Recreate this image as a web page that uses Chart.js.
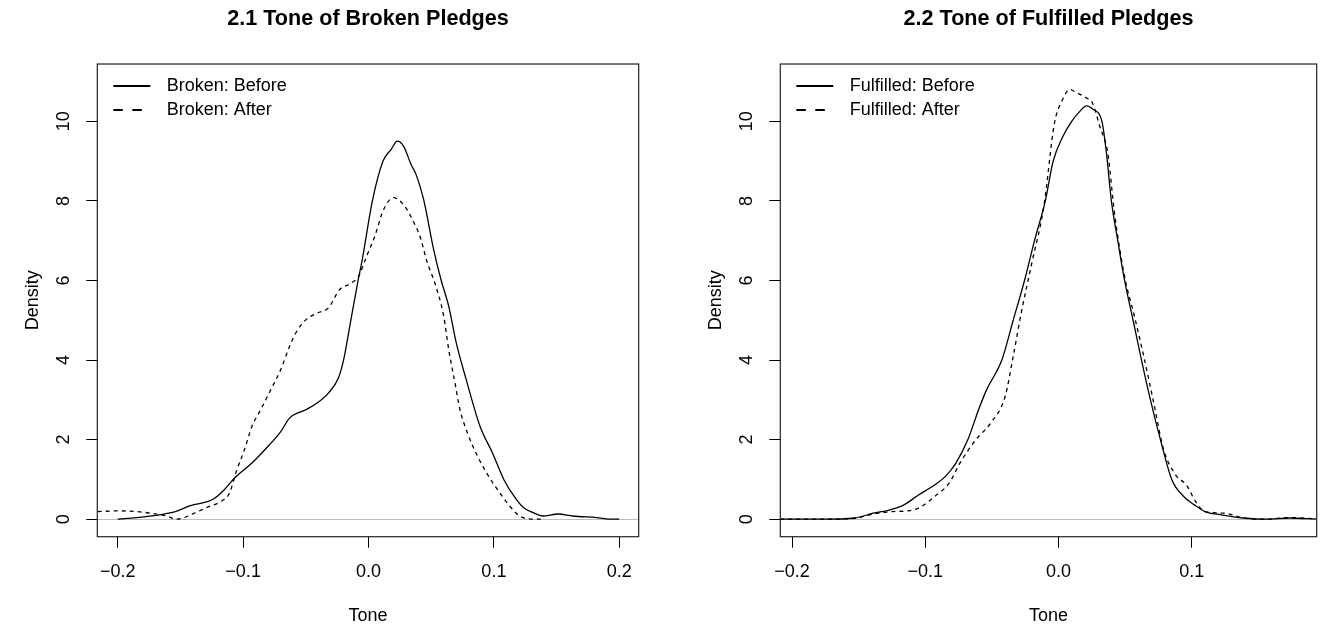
<!DOCTYPE html>
<html>
<head>
<meta charset="utf-8">
<script src="https://cdn.jsdelivr.net/npm/chart.js@4.4.1/dist/chart.umd.min.js"></script>
<style>
    html, body { margin: 0; padding: 0; background: #fff; }
    #wrap { position: relative; width: 1322px; height: 627px; overflow: hidden; }
    .panel { position: absolute; top: 0; }
    #p1 { left: 0; }
    #p2 { left: 683px; }
</style>
</head>
<body>
<div id="wrap">
    <div class="panel" id="p1"><canvas id="brokenChart" width="661" height="627"></canvas></div>
    <div class="panel" id="p2"><canvas id="fulfilledChart" width="639" height="627"></canvas></div>
</div>
<script>
// Panel 2.1 - broken pledges (density curves)
const brokenBeforeX = [-0.200, -0.176, -0.163, -0.154, -0.142, -0.124, -0.115, -0.107, -0.093, -0.079, -0.070, -0.063, -0.050, -0.041, -0.032, -0.024, -0.0198, -0.0145, -0.0083, -0.005, 0.0031, 0.0116, 0.018, 0.023, 0.028, 0.034, 0.038, 0.044, 0.052, 0.058, 0.064, 0.070, 0.078, 0.089, 0.099, 0.108, 0.118, 0.124, 0.131, 0.139, 0.151, 0.163, 0.182, 0.194, 0.200];
const brokenBeforeY = [0.00, 0.07, 0.13, 0.19, 0.34, 0.50, 0.74, 1.03, 1.41, 1.87, 2.20, 2.54, 2.75, 2.92, 3.17, 3.55, 4.01, 4.93, 6.00, 6.52, 8.00, 9.00, 9.29, 9.50, 9.37, 8.91, 8.66, 8.03, 6.77, 6.00, 5.35, 4.43, 3.50, 2.33, 1.66, 0.99, 0.49, 0.28, 0.17, 0.08, 0.13, 0.08, 0.04, 0.00, 0.00];
const brokenAfterX = [-0.216, -0.200, -0.185, -0.169, -0.160, -0.154, -0.148, -0.139, -0.127, -0.118, -0.111, -0.105, -0.099, -0.093, -0.086, -0.078, -0.070, -0.063, -0.058, -0.050, -0.041, -0.032, -0.023, -0.014, -0.008, -0.002, 0.005, 0.012, 0.020, 0.029, 0.035, 0.041, 0.047, 0.053, 0.060, 0.064, 0.069, 0.073, 0.079, 0.087, 0.096, 0.105, 0.114, 0.121, 0.133, 0.140];
const brokenAfterY = [0.19, 0.21, 0.19, 0.13, 0.07, 0.00, 0.03, 0.15, 0.32, 0.44, 0.65, 1.24, 1.74, 2.33, 2.75, 3.25, 3.76, 4.34, 4.68, 5.01, 5.18, 5.31, 5.77, 5.93, 6.10, 6.57, 7.11, 7.78, 8.08, 7.86, 7.53, 7.11, 6.44, 5.93, 5.10, 4.26, 3.42, 2.75, 2.16, 1.58, 1.07, 0.65, 0.28, 0.07, 0.00, 0.00];

// Panel 2.2 - fulfilled pledges
const fulfilledBeforeX = [-0.209, -0.176, -0.153, -0.139, -0.127, -0.116, -0.105, -0.093, -0.085, -0.077, -0.068, -0.060, -0.054, -0.0425, -0.034, -0.0255, -0.018, -0.0099, -0.004, 0.003, 0.0099, 0.016, 0.021, 0.026, 0.0326, 0.036, 0.0397, 0.0445, 0.0496, 0.056, 0.0623, 0.069, 0.0765, 0.085, 0.094, 0.102, 0.110, 0.122, 0.139, 0.156, 0.173, 0.194];
const fulfilledBeforeY = [0.00, 0.00, 0.03, 0.15, 0.23, 0.36, 0.61, 0.86, 1.07, 1.41, 2.00, 2.75, 3.25, 4.00, 5.00, 6.00, 7.00, 8.00, 9.00, 9.60, 10.00, 10.25, 10.39, 10.30, 10.00, 9.20, 8.00, 7.00, 6.00, 5.00, 4.00, 3.00, 2.00, 1.00, 0.57, 0.36, 0.19, 0.11, 0.03, 0.00, 0.03, 0.00];
const fulfilledAfterX = [-0.209, -0.176, -0.153, -0.139, -0.125, -0.113, -0.105, -0.093, -0.082, -0.074, -0.062, -0.051, -0.040, -0.034, -0.028, -0.020, -0.011, -0.003, 0.003, 0.0085, 0.014, 0.021, 0.0255, 0.031, 0.037, 0.042, 0.0496, 0.057, 0.064, 0.071, 0.079, 0.088, 0.096, 0.103, 0.110, 0.125, 0.139, 0.156, 0.173, 0.194];
const fulfilledAfterY = [0.00, 0.00, 0.02, 0.13, 0.19, 0.21, 0.28, 0.57, 0.91, 1.41, 2.00, 2.41, 3.09, 4.09, 5.18, 6.44, 7.86, 9.96, 10.54, 10.80, 10.71, 10.59, 10.46, 9.87, 9.20, 7.70, 6.10, 5.10, 4.09, 3.00, 1.74, 1.11, 0.86, 0.44, 0.19, 0.15, 0.03, 0.00, 0.04, 0.01];

// ticks
const yTicks = [0, 2, 4, 6, 8, 10];
const yTickLabels = ["0", "2", "4", "6", "8", "10"];
const brokenXTicks = [-0.2, -0.1, 0.0, 0.1, 0.2];
const brokenXTickLabels = ["\u22120.2", "\u22120.1", "0.0", "0.1", "0.2"];
const fulfilledXTicks = [-0.2, -0.1, 0.0, 0.1];
const fulfilledXTickLabels = ["\u22120.2", "\u22120.1", "0.0", "0.1"];

const FONT = "'Liberation Sans', Arial, Helvetica, sans-serif";
Chart.defaults.font.family = FONT;
Chart.defaults.color = "#000";

function toPoints(xs, ys) {
    return xs.map((x, i) => ({ x: x, y: ys[i] }));
}

// box, rotated y labels and legend drawn on top of the plot
const framePlugin = {
    id: "frame",
    afterDraw(chart) {
        const ctx = chart.ctx;
        const a = chart.chartArea;
        ctx.save();
        ctx.strokeStyle = "#222";
        ctx.lineWidth = 1.2;
        ctx.strokeRect(a.left, a.top, a.right - a.left, a.bottom - a.top);

        // y tick labels, vertical like R
        const ys = chart.scales.y;
        ctx.font = "18px " + FONT;
        ctx.fillStyle = "#000";
        ctx.textAlign = "center";
        ctx.textBaseline = "middle";
        ys.ticks.forEach((t, i) => {
            ctx.save();
            ctx.translate(a.left - 33.5, ys.getPixelForValue(t.value));
            ctx.rotate(-Math.PI / 2);
            ctx.fillText(yTickLabels[i], 0, 0);
            ctx.restore();
        });

        // legend
        chart.data.datasets.forEach((ds, i) => {
            const y = a.top + 22 + i * 24;
            ctx.beginPath();
            ctx.lineWidth = 2.2;
            ctx.strokeStyle = "#000";
            ctx.setLineDash(ds.borderDash && ds.borderDash.length ? [9.5, 9.5] : []);
            ctx.moveTo(a.left + 16, y);
            ctx.lineTo(a.left + 53, y);
            ctx.stroke();
            ctx.setLineDash([]);
            ctx.textAlign = "left";
            ctx.fillText(ds.label, a.left + 69.5, y);
        });
        ctx.restore();
    }
};

function makeChart(canvasId, title, labels, series, xMin, xMax, xTicks, xTickLabels, padRight) {
    const ctx = document.getElementById(canvasId).getContext("2d");
    return new Chart(ctx, {
        type: "line",
        data: {
            datasets: series.map((s, i) => ({
                label: labels[i],
                data: toPoints(s[0], s[1]),
                borderColor: "#000",
                borderWidth: 1.3,
                borderDash: i === 1 ? [4, 4] : [],
                pointRadius: 0,
                fill: false,
                cubicInterpolationMode: "monotone"
            }))
        },
        options: {
            responsive: false,
            animation: false,
            layout: { padding: { left: 0, top: 0, right: padRight, bottom: 0 } },
            plugins: {
                legend: { display: false },
                tooltip: { enabled: false },
                title: {
                    display: true,
                    text: title,
                    fullSize: false,
                    color: "#000",
                    font: { size: 21.6, weight: "bold" },
                    padding: { top: 6.3, bottom: 31.8 }
                }
            },
            scales: {
                x: {
                    type: "linear",
                    min: xMin,
                    max: xMax,
                    afterBuildTicks: s => { s.ticks = xTicks.map(v => ({ value: v })); },
                    afterFit: s => { s.height = 90.3; },
                    ticks: {
                        callback: (v, i) => xTickLabels[i],
                        font: { size: 18 },
                        color: "#000",
                        padding: 14,
                        maxRotation: 0,
                        autoSkip: false
                    },
                    grid: { color: "transparent", tickColor: "#000", tickLength: 11, tickWidth: 1 },
                    border: { display: false },
                    title: { display: true, text: "Tone", font: { size: 18 }, color: "#000", padding: { top: 0, bottom: 0.5 } }
                },
                y: {
                    type: "linear",
                    min: -0.44,
                    max: 11.44,
                    afterBuildTicks: s => { s.ticks = yTicks.map(v => ({ value: v })); },
                    afterFit: s => { s.width = 97.3; },
                    ticks: { display: false },
                    grid: {
                        color: c => (c.tick && c.tick.value === 0 ? "#bebebe" : "transparent"),
                        lineWidth: 1,
                        tickColor: "#000",
                        tickLength: 11,
                        tickWidth: 1
                    },
                    border: { display: false },
                    title: { display: true, text: "Density", font: { size: 18 }, color: "#000", padding: { top: 22.2, bottom: 0 } }
                }
            }
        },
        plugins: [framePlugin]
    });
}

const brokenChart = makeChart(
    "brokenChart", "2.1 Tone of Broken Pledges",
    ["Broken: Before", "Broken: After"],
    [[brokenBeforeX, brokenBeforeY], [brokenAfterX, brokenAfterY]],
    -0.2163, 0.2155, brokenXTicks, brokenXTickLabels, 22.3
);

const fulfilledChart = makeChart(
    "fulfilledChart", "2.2 Tone of Fulfilled Pledges",
    ["Fulfilled: Before", "Fulfilled: After"],
    [[fulfilledBeforeX, fulfilledBeforeY], [fulfilledAfterX, fulfilledAfterY]],
    -0.2088, 0.1938, fulfilledXTicks, fulfilledXTickLabels, 5.3
);
</script>
</body>
</html>
